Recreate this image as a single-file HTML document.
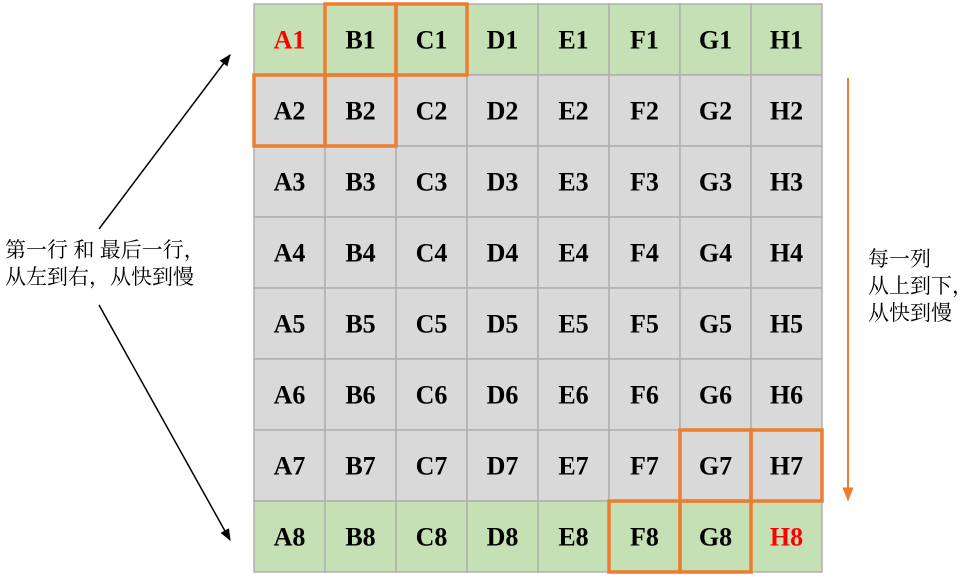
<!DOCTYPE html>
<html><head><meta charset="utf-8"><style>
html,body{margin:0;padding:0;background:#fff;width:969px;height:577px;overflow:hidden}
svg{display:block}
.cjk{font-family:"Noto Serif CJK SC","Noto Sans CJK SC","Liberation Serif",serif;font-size:21px;fill:#000}
.lbl{font-family:"Liberation Serif","Times New Roman",serif;font-weight:bold;font-size:26px}
</style></head><body>
<svg id="chart" width="969" height="577" viewBox="0 0 969 577" xmlns="http://www.w3.org/2000/svg">
<defs>
<marker id="ab" viewBox="0 0 10 10" refX="9" refY="5" markerWidth="8" markerHeight="8" orient="auto"><path d="M0,1 L10,5 L0,9 z" fill="#000"/></marker>
<marker id="ao" viewBox="0 0 10 10" refX="9" refY="5" markerWidth="7" markerHeight="7" orient="auto"><path d="M0,1 L10,5 L0,9 z" fill="#ED7D31"/></marker>
</defs>
<g id="cells"></g>
<g id="hl"></g>
<line x1="99" y1="229" x2="230" y2="55" stroke="#000" stroke-width="1.5" marker-end="url(#ab)"/>
<line x1="99" y1="305" x2="230" y2="540" stroke="#000" stroke-width="1.5" marker-end="url(#ab)"/>
<line x1="848" y1="78" x2="848" y2="500" stroke="#ED7D31" stroke-width="2" marker-end="url(#ao)"/>
<text class="cjk" x="5" y="257">第一行 和 最后一行，</text>
<text class="cjk" x="5" y="284">从左到右，从快到慢</text>
<text class="cjk" x="868" y="266">每一列</text>
<text class="cjk" x="868" y="293">从上到下，</text>
<text class="cjk" x="868" y="320">从快到慢</text>
</svg>
<script>
const cols = ['A','B','C','D','E','F','G','H'];
const rows = ['1','2','3','4','5','6','7','8'];
const redCells = ['A1','H8'];
const highlights = [['B1','C1'],['A2','B2'],['G7','H7'],['F8','G8']];
const NS='http://www.w3.org/2000/svg';
const X0=254,Y0=4,S=71;
const g=document.getElementById('cells');
rows.forEach((r,ri)=>{cols.forEach((c,ci)=>{
  const id=c+r;
  const rect=document.createElementNS(NS,'rect');
  rect.setAttribute('x',X0+ci*S);rect.setAttribute('y',Y0+ri*S);
  rect.setAttribute('width',S);rect.setAttribute('height',S);
  const green=(ri===0||ri===rows.length-1);
  rect.setAttribute('fill',green?'#C5E0B4':'#D9D9D9');
  rect.setAttribute('stroke','#AFAFAF');rect.setAttribute('stroke-width','1.5');
  
  
  g.appendChild(rect);
  const t=document.createElementNS(NS,'text');
  t.setAttribute('x',X0+ci*S+S/2);t.setAttribute('y',Y0+ri*S+S/2+9);
  t.setAttribute('text-anchor','middle');
  t.setAttribute('class','lbl');
  t.setAttribute('fill',redCells.includes(id)?'#FF0000':'#000');
  t.textContent=id;
  
  
  g.appendChild(t);
});});
const h=document.getElementById('hl');
highlights.forEach(pair=>{pair.forEach(id=>{
  const ci=cols.indexOf(id[0]),ri=rows.indexOf(id.slice(1));
  const rect=document.createElementNS(NS,'rect');
  rect.setAttribute('x',X0+ci*S);rect.setAttribute('y',Y0+ri*S);
  rect.setAttribute('width',S);rect.setAttribute('height',S);
  rect.setAttribute('fill','none');rect.setAttribute('stroke','#ED7D31');rect.setAttribute('stroke-width','3.5');
  
  
  h.appendChild(rect);
});});
</script>
</body></html>
